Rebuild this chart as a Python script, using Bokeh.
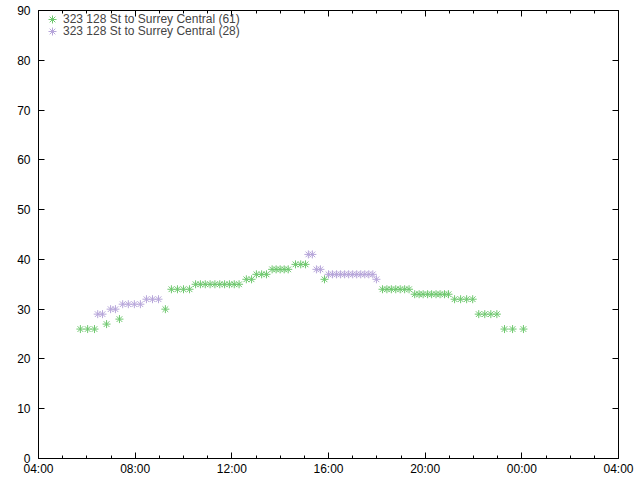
from datetime import datetime, timedelta
from bokeh.plotting import figure
from bokeh.models import (Range1d, FixedTicker, DatetimeTickFormatter, LinearAxis, DatetimeAxis,
                          Legend, LegendItem, ColumnDataSource, CustomJSTickFormatter)
from bokeh.embed import file_html
from bokeh.resources import INLINE

label_61 = "323 128 St to Surrey Central (61)"
label_28 = "323 128 St to Surrey Central (28)"

times_61 = ["05:44", "06:02", "06:19", "06:49", "07:21", "09:15",
            "09:30", "09:45", "10:00", "10:15",
            "10:30", "10:42", "10:54", "11:06", "11:18", "11:30", "11:42", "11:54", "12:06", "12:18",
            "12:36", "12:49", "13:01", "13:14", "13:26",
            "13:40", "13:50", "14:00", "14:10", "14:20",
            "14:38", "14:51", "15:03", "15:50",
            "18:14", "18:25", "18:36", "18:47", "18:58", "19:09", "19:20",
            "19:34", "19:45", "19:55", "20:06", "20:16", "20:27", "20:37", "20:48", "20:58",
            "21:13", "21:28", "21:43", "21:58",
            "22:13", "22:28", "22:43", "22:58",
            "23:17", "23:37", "00:04"]
values_61 = [26, 26, 26, 27, 28, 30,
             34, 34, 34, 34,
             35, 35, 35, 35, 35, 35, 35, 35, 35, 35,
             36, 36, 37, 37, 37,
             38, 38, 38, 38, 38,
             39, 39, 39, 36,
             34, 34, 34, 34, 34, 34, 34,
             33, 33, 33, 33, 33, 33, 33, 33, 33,
             32, 32, 32, 32,
             29, 29, 29, 29,
             26, 26, 26]

times_28 = ["06:27", "06:39", "06:59", "07:11",
            "07:29", "07:43", "07:58", "08:13",
            "08:28", "08:43", "08:58",
            "15:10", "15:20", "15:30", "15:40",
            "16:00", "16:10", "16:20", "16:30", "16:40", "16:50",
            "17:00", "17:10", "17:20", "17:30", "17:40", "17:50",
            "17:59"]
values_28 = [29, 29, 30, 30,
             31, 31, 31, 31,
             32, 32, 32,
             41, 41, 38, 38,
             37, 37, 37, 37, 37, 37,
             37, 37, 37, 37, 37, 37,
             36]

y_ticks = [0, 10, 20, 30, 40, 50, 60, 70, 80, 90]
x_tick_hours = [4, 8, 12, 16, 20, 24, 28]

base = datetime(2024, 1, 1)


def to_dt(s):
    h, m = map(int, s.split(":"))
    d = base + timedelta(hours=h, minutes=m)
    if h < 4:
        d += timedelta(days=1)
    return d


def ms(dt):
    return (dt - datetime(1970, 1, 1)).total_seconds() * 1000.0


src61 = ColumnDataSource(dict(x=[to_dt(t) for t in times_61], y=values_61))
src28 = ColumnDataSource(dict(x=[to_dt(t) for t in times_28], y=values_28))

x_start = base + timedelta(hours=4)
x_end = base + timedelta(hours=28)

p = figure(width=640, height=480, output_backend="svg", toolbar_location=None,
           x_axis_type="datetime",
           x_range=Range1d(x_start, x_end), y_range=Range1d(0, 90),
           min_border_left=38, min_border_right=22, min_border_top=10, min_border_bottom=22)
p.xgrid.visible = False
p.ygrid.visible = False
p.outline_line_color = "black"
p.outline_line_width = 1
p.background_fill_color = "white"
p.border_fill_color = "white"

major_x = [ms(base + timedelta(hours=h)) for h in x_tick_hours]
minor_x = [ms(base + timedelta(hours=h)) for h in range(4, 29)]
xticker = FixedTicker(ticks=major_x, minor_ticks=minor_x)
yticker = FixedTicker(ticks=y_ticks, minor_ticks=[])

fmt = DatetimeTickFormatter(hours="%H:%M", days="%H:%M", hourmin="%H:%M", minutes="%H:%M",
                            months="%H:%M", years="%H:%M", minsec="%H:%M", seconds="%H:%M")

font = "Liberation Sans"


def style(ax):
    ax.axis_line_color = None
    ax.major_tick_out = 0
    ax.major_tick_in = 6
    ax.minor_tick_out = 0
    ax.minor_tick_in = 3
    ax.major_tick_line_color = "black"
    ax.minor_tick_line_color = "black"
    ax.major_label_text_font = font
    ax.major_label_text_font_size = "12px"
    ax.major_label_text_color = "black"


xa = p.xaxis[0]
xa.ticker = xticker
xa.formatter = fmt
style(xa)
xa.major_label_standoff = 3

ya = p.yaxis[0]
ya.ticker = yticker
style(ya)
ya.major_label_standoff = 8

top = DatetimeAxis(ticker=xticker, formatter=CustomJSTickFormatter(code="return ''"))
style(top)
top.major_label_text_font_size = "0px"
top.major_label_standoff = 0
p.add_layout(top, "above")

right = LinearAxis(ticker=yticker, formatter=CustomJSTickFormatter(code="return ''"))
style(right)
right.major_label_text_font_size = "0px"
right.major_label_standoff = 0
p.add_layout(right, "right")

r61 = p.scatter("x", "y", source=src61, marker="asterisk", size=8, line_color="#6fc86f", line_width=1)
r28 = p.scatter("x", "y", source=src28, marker="asterisk", size=8, line_color="#b7a6da", line_width=1)


def make_legend(label, renderer, loc):
    return Legend(items=[LegendItem(label=label, renderers=[renderer])],
                  location=loc, border_line_color=None, background_fill_alpha=0,
                  label_text_font=font, label_text_font_size="12px",
                  glyph_height=20, label_height=12, glyph_width=20,
                  padding=0, margin=0, spacing=0, label_standoff=1)


p.add_layout(make_legend(label_61, r61, (4, 429)))
p.add_layout(make_legend(label_28, r28, (4, 417)))

open("out.html", "w").write(file_html(p, INLINE))
